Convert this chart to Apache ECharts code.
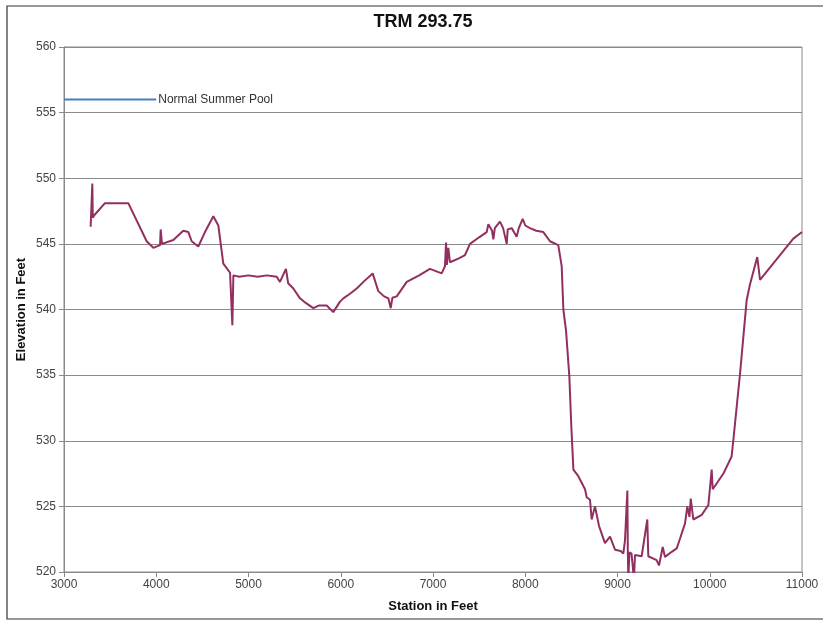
<!DOCTYPE html>
<html>
<head>
<meta charset="utf-8">
<script src="https://cdn.jsdelivr.net/npm/echarts@6/dist/echarts.min.js"></script>
<style>html,body{margin:0;padding:0;background:#fff;}#c{width:823px;height:620px;}</style>
</head>
<body>
<div id="c"></div>
<script>
const chartTitle = "TRM 293.75";
const xTitle = "Station in Feet";
const yTitle = "Elevation in Feet";
const poolName = "Normal Summer Pool";
const poolStations = [3000, 4000];
const poolElevations = [556, 556];

const stations = [3289,3307,3312,3330,3444,3697,3896,3968,4041,4048,4062,4185,4293,4348,4384,4456,4528,4619,4673,4727,4800,4825,4836,4900,5000,5100,5200,5306,5341,5406,5430,5486,5558,5620,5703,5760,5848,5919,5992,6028,6100,6173,6260,6346,6407,6470,6516,6542,6560,6607,6715,6850,6967,7094,7130,7141,7150,7166,7184,7280,7347,7401,7500,7582,7600,7640,7654,7670,7726,7760,7799,7810,7853,7907,7930,7972,8000,8051,8120,8196,8268,8358,8377,8395,8413,8442,8478,8500,8522,8575,8648,8666,8702,8720,8738,8756,8800,8864,8919,8973,9035,9063,9081,9092,9107,9112,9117,9130,9152,9178,9190,9207,9262,9323,9334,9424,9450,9490,9515,9580,9642,9678,9732,9757,9780,9794,9822,9913,9985,10021,10032,10148,10237,10255,10328,10400,10436,10515,10545,10906,11000];
const elevations = [546.3,549.6,547.0,547.2,548.1,548.1,545.2,544.7,544.9,546.1,545.0,545.3,546.0,545.9,545.2,544.8,545.9,547.1,546.4,543.5,542.8,538.8,542.6,542.5,542.6,542.5,542.6,542.5,542.1,543.1,542.0,541.6,540.85,540.5,540.1,540.3,540.3,539.8,540.6,540.85,541.2,541.6,542.2,542.75,541.4,541.0,540.85,540.1,540.9,541.0,542.1,542.6,543.1,542.75,543.3,545.1,543.4,544.7,543.6,543.9,544.15,545.0,545.5,545.9,546.5,546.0,545.35,546.2,546.7,546.2,545.0,546.1,546.2,545.55,546.2,546.9,546.4,546.2,546.0,545.9,545.2,544.9,545.0,543.3,540.0,538.4,534.9,531.0,527.8,527.3,526.3,525.7,525.5,524.0,524.0,525.0,523.5,522.2,522.7,521.7,521.6,521.4,522.4,522.4,526.2,521.5,519.5,521.5,521.4,519.5,521.3,521.3,521.2,524.0,521.2,520.9,520.5,521.9,521.15,521.5,521.8,522.55,523.7,525.0,524.2,525.6,524.0,524.35,525.1,527.8,526.3,527.5,528.8,530.0,535.1,540.7,541.9,544.0,542.25,545.4,545.9];

const profile = stations.map((s, i) => [s, elevations[i]]);
const pool = poolStations.map((s, i) => [s, poolElevations[i]]);

const chart = echarts.init(document.getElementById('c'), null, {renderer: 'canvas'});
chart.setOption({
  animation: false,
  backgroundColor: '#fff',
  title: {
    text: chartTitle, left: 418, top: 8, textAlign: 'center',
    textStyle: {fontFamily: 'Liberation Sans, Arial', fontWeight: 'bold', fontSize: 18, color: '#111'}
  },
  graphic: [{
    type: 'rect', shape: {x: 7, y: 6, width: 830, height: 613},
    style: {fill: 'none', stroke: '#333', lineWidth: 1.2}, silent: true
  }],
  grid: {left: 64, right: 21, top: 47, bottom: 48, show: true, borderColor: '#8a8a8a', borderWidth: 1, backgroundColor: 'transparent'},
  xAxis: {
    type: 'value', min: 3000, max: 11000, interval: 1000,
    name: xTitle, nameLocation: 'middle', nameGap: 28,
    nameTextStyle: {fontFamily: 'Liberation Sans, Arial', fontWeight: 'bold', fontSize: 13, color: '#111'},
    axisLine: {show: true, onZero: false, lineStyle: {color: '#8a8a8a', width: 1}},
    axisTick: {show: true, length: 5, lineStyle: {color: '#8a8a8a'}},
    axisLabel: {fontFamily: 'Liberation Sans, Arial', fontSize: 12, color: '#444', margin: 7, formatter: v => String(v)},
    splitLine: {show: false}
  },
  yAxis: {
    type: 'value', min: 520, max: 560, interval: 5,
    name: yTitle, nameLocation: 'middle', nameGap: 36, nameRotate: 90, nameMoveOverlap: false,
    nameTextStyle: {fontFamily: 'Liberation Sans, Arial', fontWeight: 'bold', fontSize: 13, color: '#111'},
    axisLine: {show: true, lineStyle: {color: '#8a8a8a', width: 1}},
    axisTick: {show: true, length: 5, lineStyle: {color: '#8a8a8a'}},
    axisLabel: {fontFamily: 'Liberation Sans, Arial', fontSize: 12, color: '#444', margin: 8, formatter: v => String(v)},
    splitLine: {show: true, lineStyle: {color: '#8a8a8a', width: 1}}
  },
  series: [
    {
      name: poolName, type: 'line', data: pool, showSymbol: false, symbol: 'none',
      lineStyle: {color: '#4a7ebb', width: 2}, itemStyle: {color: '#4a7ebb'},
      endLabel: {show: true, formatter: poolName, color: '#333', fontSize: 12, fontFamily: 'Liberation Sans, Arial', distance: 2}
    },
    {
      name: 'Profile', type: 'line', data: profile, showSymbol: false, symbol: 'none',
      lineStyle: {color: '#932f60', width: 2}, itemStyle: {color: '#932f60'}, clip: true
    }
  ]
});
</script>
</body>
</html>
